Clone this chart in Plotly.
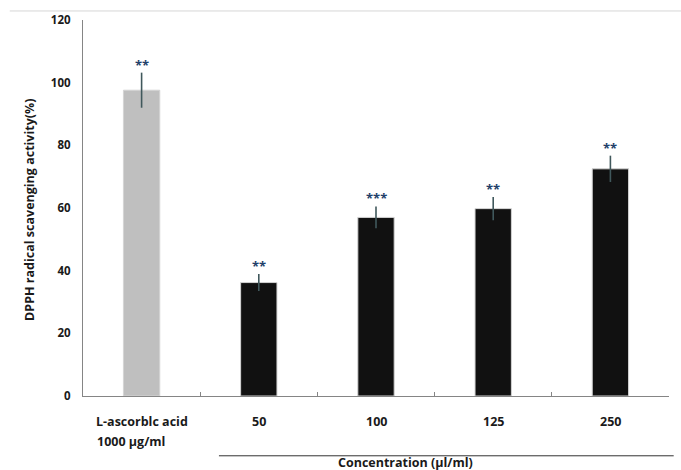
import plotly.graph_objects as go

# DPPH radical scavenging activity by treatment
categories = ["L-ascorbic acid", "50", "100", "125", "250"]
label_lines = [["L-ascorblc acid", "1000 µg/ml"], ["50"], ["100"], ["125"], ["250"]]
activity = [97.6, 36.2, 57.0, 59.8, 72.5]
errors = [5.6, 2.7, 3.5, 3.7, 4.2]
significance = ["**", "**", "***", "**", "**"]
bar_colors = ["#BFBFBF", "#111111", "#111111", "#111111", "#111111"]
y_ticks = [0, 20, 40, 60, 80, 100, 120]

FONT = "Open Sans"
TEXT = "#1a1a1a"

fig = go.Figure()
fig.add_trace(go.Bar(
    x=categories,
    y=activity,
    width=0.31,
    marker=dict(color=bar_colors, line=dict(color="#D4D4D4", width=1)),
    error_y=dict(type="data", array=errors, visible=True,
                 color="#40585C", thickness=1.6, width=0),
    showlegend=False,
))

annotations = []
# category axis positions are addressed by index
for i, (v, e, s) in enumerate(zip(activity, errors, significance)):
    annotations.append(dict(
        x=i, y=v + e, xref="x", yref="y", text=s, showarrow=False,
        yanchor="middle", yshift=8,
        font=dict(family=FONT, size=13, color="#23406A", weight="bold"),
    ))

# category labels under the axis
for i, lines in enumerate(label_lines):
    annotations.append(dict(
        x=i, y=0, xref="x", yref="paper", text=lines[0], showarrow=False,
        yanchor="middle", yshift=-25,
        font=dict(family=FONT, size=12.5, color=TEXT, weight="bold"),
    ))
    if len(lines) > 1:
        annotations.append(dict(
            x=i, y=0, xref="x", yref="paper", text=lines[1], showarrow=False,
            xanchor="left", xshift=-47, yanchor="middle", yshift=-45,
            font=dict(family=FONT, size=12.5, color=TEXT, weight="bold"),
        ))

annotations.append(dict(
    x=0.551, y=-0.176, xref="paper", yref="paper",
    text="Concentration (µl/ml)", showarrow=False,
    xanchor="center", yanchor="middle",
    font=dict(family=FONT, size=12.5, color=TEXT, weight="bold"),
))
annotations.append(dict(
    x=-0.0904, y=0.495, xref="paper", yref="paper",
    text="DPPH radical scavenging activity(%)", showarrow=False,
    textangle=-90, xanchor="center", yanchor="middle",
    font=dict(family=FONT, size=12.5, color=TEXT, weight="bold"),
))

shapes = [
    # underline grouping the concentration levels
    dict(type="line", xref="paper", yref="paper",
         x0=0.232, x1=1.008, y0=-0.159, y1=-0.159,
         line=dict(color="#333333", width=1)),
    # thin frame line across the top
    dict(type="line", xref="paper", yref="paper",
         x0=-0.125, x1=1.03, y0=1.024, y1=1.024,
         line=dict(color="#D6D6D6", width=1)),
]

fig.update_layout(
    width=681, height=470,
    margin=dict(l=83, r=12, t=20, b=74),
    paper_bgcolor="white", plot_bgcolor="white",
    annotations=annotations, shapes=shapes,
    bargap=0.69,
)
fig.update_xaxes(
    type="category", range=[-0.5, 4.5],
    showline=True, linecolor="#858585", linewidth=1.3,
    ticks="inside", tickson="boundaries", ticklen=4, tickcolor="#858585",
    showticklabels=False, showgrid=False, zeroline=False,
)
fig.update_yaxes(
    range=[0, 120], tickvals=y_ticks,
    showline=True, linecolor="#858585", linewidth=1.3,
    ticks="", ticklabelstandoff=9, showgrid=False, zeroline=False,
    tickfont=dict(family=FONT, size=11.5, color=TEXT, weight="bold"),
)

fig.write_html("out.html")
